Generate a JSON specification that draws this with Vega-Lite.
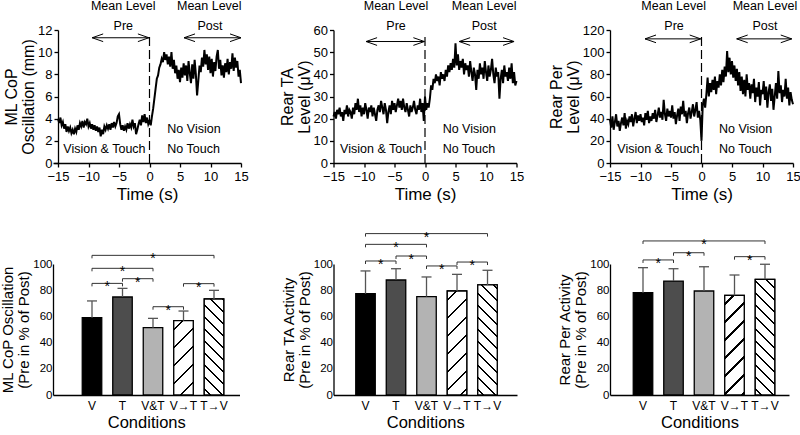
{
"$schema":"https://vega.github.io/schema/vega-lite/v6.json",
"padding":{"left":0,"top":0,"right":0,"bottom":0},
"columns":3,
"spacing":{"row":101,"column":92.5},
"bounds":"flush",
"align":"none",
"config":{"font":"Liberation Sans","view":{"stroke":null},
"axis":{"grid":false,"labelOverlap":false,"labelFlush":false,"labelBound":false,"domainColor":"#000","domainWidth":1.3,"tickColor":"#000","tickWidth":1.3,"labelColor":"#000","titleColor":"#000","labelFontSize":13,"titleFontSize":16,"titleFontWeight":"normal","labelFont":"Liberation Sans","titleFont":"Liberation Sans"},
"axisX":{"labelAngle":0,"titleFontSize":17},
"text":{"font":"Liberation Sans","color":"#000"}},
"datasets":{"series":[
{"t":-15,"cop":4.0,"ta":21,"per":39},{"t":-14.8,"cop":3.6,"ta":23,"per":32},{"t":-14.6,"cop":4.1,"ta":20,"per":42},{"t":-14.4,"cop":3.4,"ta":24,"per":30},{"t":-14.2,"cop":3.7,"ta":22,"per":37},
{"t":-14,"cop":3.1,"ta":25,"per":44},{"t":-13.8,"cop":3.5,"ta":21,"per":33},{"t":-13.6,"cop":2.8,"ta":23,"per":38},{"t":-13.4,"cop":3.3,"ta":19,"per":29},{"t":-13.2,"cop":2.9,"ta":24,"per":36},
{"t":-13,"cop":3.2,"ta":22,"per":41},{"t":-12.8,"cop":2.7,"ta":26,"per":34},{"t":-12.6,"cop":3.0,"ta":21,"per":45},{"t":-12.4,"cop":2.6,"ta":24,"per":31},{"t":-12.2,"cop":3.1,"ta":23,"per":38},
{"t":-12,"cop":2.8,"ta":20,"per":35},{"t":-11.8,"cop":3.4,"ta":25,"per":42},{"t":-11.6,"cop":3.0,"ta":22,"per":37},{"t":-11.4,"cop":3.6,"ta":27,"per":44},{"t":-11.2,"cop":3.3,"ta":24,"per":33},
{"t":-11,"cop":3.8,"ta":29,"per":40},{"t":-10.8,"cop":3.2,"ta":23,"per":46},{"t":-10.6,"cop":3.7,"ta":26,"per":36},{"t":-10.4,"cop":3.5,"ta":21,"per":43},{"t":-10.2,"cop":4.0,"ta":25,"per":38},
{"t":-10,"cop":3.3,"ta":22,"per":44},{"t":-9.8,"cop":3.6,"ta":27,"per":37},{"t":-9.6,"cop":3.1,"ta":24,"per":41},{"t":-9.4,"cop":3.5,"ta":20,"per":34},{"t":-9.2,"cop":3.0,"ta":25,"per":45},
{"t":-9,"cop":3.4,"ta":23,"per":39},{"t":-8.8,"cop":2.9,"ta":26,"per":47},{"t":-8.6,"cop":3.3,"ta":21,"per":36},{"t":-8.4,"cop":2.8,"ta":25,"per":42},{"t":-8.2,"cop":3.2,"ta":22,"per":38},
{"t":-8,"cop":2.4,"ta":19,"per":45},{"t":-7.8,"cop":3.0,"ta":24,"per":40},{"t":-7.6,"cop":2.6,"ta":26,"per":48},{"t":-7.4,"cop":3.3,"ta":23,"per":37},{"t":-7.2,"cop":3.0,"ta":28,"per":43},
{"t":-7,"cop":3.4,"ta":25,"per":50},{"t":-6.8,"cop":3.1,"ta":22,"per":41},{"t":-6.6,"cop":3.5,"ta":27,"per":46},{"t":-6.4,"cop":3.0,"ta":24,"per":39},{"t":-6.2,"cop":3.6,"ta":18,"per":57},
{"t":-6,"cop":3.2,"ta":23,"per":44},{"t":-5.8,"cop":3.7,"ta":26,"per":38},{"t":-5.6,"cop":3.3,"ta":22,"per":49},{"t":-5.4,"cop":3.6,"ta":28,"per":42},{"t":-5.2,"cop":4.2,"ta":24,"per":47},
{"t":-5,"cop":4.4,"ta":27,"per":41},{"t":-4.8,"cop":3.5,"ta":23,"per":52},{"t":-4.6,"cop":3.0,"ta":26,"per":40},{"t":-4.4,"cop":3.4,"ta":29,"per":46},{"t":-4.2,"cop":2.9,"ta":25,"per":35},
{"t":-4,"cop":3.3,"ta":28,"per":43},{"t":-3.8,"cop":3.0,"ta":24,"per":49},{"t":-3.6,"cop":3.6,"ta":29,"per":38},{"t":-3.4,"cop":3.1,"ta":25,"per":51},{"t":-3.2,"cop":3.5,"ta":23,"per":44},
{"t":-3,"cop":3.2,"ta":27,"per":56},{"t":-2.8,"cop":3.9,"ta":24,"per":42},{"t":-2.6,"cop":3.3,"ta":21,"per":47},{"t":-2.4,"cop":3.6,"ta":26,"per":36},{"t":-2.2,"cop":2.6,"ta":23,"per":45},
{"t":-2,"cop":3.0,"ta":25,"per":50},{"t":-1.8,"cop":3.5,"ta":28,"per":40},{"t":-1.6,"cop":3.9,"ta":24,"per":46},{"t":-1.4,"cop":3.4,"ta":22,"per":53},{"t":-1.2,"cop":4.3,"ta":26,"per":42},
{"t":-1,"cop":3.7,"ta":24,"per":48},{"t":-0.8,"cop":4.4,"ta":29,"per":55},{"t":-0.6,"cop":3.6,"ta":23,"per":41},{"t":-0.4,"cop":4.1,"ta":27,"per":47},{"t":-0.2,"cop":3.5,"ta":19,"per":39},
{"t":0,"cop":3.8,"ta":30,"per":20},{"t":0.2,"cop":3.4,"ta":24,"per":52},{"t":0.4,"cop":4.2,"ta":27,"per":58},{"t":0.6,"cop":4.9,"ta":25,"per":50},{"t":0.8,"cop":5.8,"ta":29,"per":62},
{"t":1,"cop":6.7,"ta":35,"per":77},{"t":1.2,"cop":7.6,"ta":33,"per":60},{"t":1.4,"cop":7.9,"ta":38,"per":72},{"t":1.6,"cop":8.6,"ta":36,"per":64},{"t":1.8,"cop":8.9,"ta":40,"per":75},
{"t":2,"cop":9.4,"ta":37,"per":66},{"t":2.2,"cop":9.1,"ta":39,"per":78},{"t":2.4,"cop":10.0,"ta":35,"per":62},{"t":2.6,"cop":9.3,"ta":41,"per":74},{"t":2.8,"cop":9.8,"ta":38,"per":68},
{"t":3,"cop":8.9,"ta":40,"per":80},{"t":3.2,"cop":9.6,"ta":37,"per":70},{"t":3.4,"cop":8.7,"ta":42,"per":84},{"t":3.6,"cop":10.0,"ta":39,"per":73},{"t":3.8,"cop":8.5,"ta":44,"per":87},
{"t":4,"cop":9.3,"ta":41,"per":78},{"t":4.2,"cop":8.1,"ta":45,"per":101},{"t":4.4,"cop":8.8,"ta":42,"per":82},{"t":4.6,"cop":7.6,"ta":47,"per":95},{"t":4.8,"cop":8.4,"ta":43,"per":80},
{"t":5,"cop":7.3,"ta":54,"per":92},{"t":5.2,"cop":8.6,"ta":44,"per":77},{"t":5.4,"cop":7.7,"ta":49,"per":88},{"t":5.6,"cop":9.0,"ta":42,"per":74},{"t":5.8,"cop":7.9,"ta":46,"per":85},
{"t":6,"cop":8.8,"ta":43,"per":70},{"t":6.2,"cop":7.4,"ta":47,"per":82},{"t":6.4,"cop":9.2,"ta":40,"per":65},{"t":6.6,"cop":8.1,"ta":45,"per":78},{"t":6.8,"cop":7.2,"ta":42,"per":62},
{"t":7,"cop":8.9,"ta":44,"per":75},{"t":7.2,"cop":7.6,"ta":39,"per":60},{"t":7.4,"cop":9.3,"ta":46,"per":80},{"t":7.6,"cop":8.0,"ta":41,"per":66},{"t":7.8,"cop":6.1,"ta":37,"per":72},
{"t":8,"cop":7.4,"ta":43,"per":58},{"t":8.2,"cop":8.8,"ta":40,"per":71},{"t":8.4,"cop":8.2,"ta":33,"per":63},{"t":8.6,"cop":9.5,"ta":42,"per":76},{"t":8.8,"cop":8.7,"ta":38,"per":55},
{"t":9,"cop":10.2,"ta":45,"per":68},{"t":9.2,"cop":8.9,"ta":40,"per":60},{"t":9.4,"cop":9.8,"ta":43,"per":73},{"t":9.6,"cop":8.4,"ta":38,"per":52},{"t":9.8,"cop":9.6,"ta":46,"per":66},
{"t":10,"cop":8.1,"ta":41,"per":62},{"t":10.2,"cop":9.4,"ta":37,"per":74},{"t":10.4,"cop":7.8,"ta":44,"per":57},{"t":10.6,"cop":9.1,"ta":39,"per":69},{"t":10.8,"cop":8.3,"ta":42,"per":50},
{"t":11,"cop":9.6,"ta":47,"per":64},{"t":11.2,"cop":10.2,"ta":40,"per":71},{"t":11.4,"cop":8.5,"ta":36,"per":56},{"t":11.6,"cop":9.3,"ta":43,"per":67},{"t":11.8,"cop":7.9,"ta":39,"per":48},
{"t":12,"cop":8.8,"ta":41,"per":60},{"t":12.2,"cop":7.7,"ta":29,"per":72},{"t":12.4,"cop":9.0,"ta":38,"per":58},{"t":12.6,"cop":8.2,"ta":42,"per":83},{"t":12.8,"cop":9.4,"ta":36,"per":63},
{"t":13,"cop":8.0,"ta":44,"per":70},{"t":13.2,"cop":9.1,"ta":39,"per":55},{"t":13.4,"cop":8.5,"ta":41,"per":66},{"t":13.6,"cop":9.9,"ta":37,"per":60},{"t":13.8,"cop":8.3,"ta":43,"per":76},
{"t":14,"cop":9.5,"ta":38,"per":58},{"t":14.2,"cop":8.6,"ta":45,"per":68},{"t":14.4,"cop":9.2,"ta":36,"per":52},{"t":14.6,"cop":7.8,"ta":41,"per":64},{"t":14.8,"cop":8.4,"ta":35,"per":57},
{"t":15,"cop":7.2,"ta":37,"per":53}
]},
"concat":[
{"width":188,"height":133,"layer":[
 {"data":{"name":"series"},"mark":{"type":"line","color":"#000","strokeWidth":2},
  "encoding":{"x":{"field":"t","type":"quantitative","scale":{"domain":[-15.82,15],"nice":false,"zero":false},"axis":{"values":[-15,-10,-5,0,5,10,15],"tickCount":20,"format":"d","labelOverlap":false,"title":"Time (s)","tickSize":4,"labelPadding":3,"titlePadding":3}},
  "y":{"field":"cop","type":"quantitative","scale":{"domain":[0,12],"nice":false},"axis":{"values":[0,2,4,6,8,10,12],"tickCount":20,"format":"d","labelOverlap":false,"title":["ML CoP","Oscillation (mm)"],"tickSize":4,"labelPadding":2,"titlePadding":1,"titleLineHeight":17,"offset":-5}}}},
 {"data":{"values":[{"t":0,"lo":0,"hi":11.7}]},"mark":{"type":"rule","color":"#000","strokeWidth":1.2,"strokeDash":[9,4]},
  "encoding":{"x":{"field":"t","type":"quantitative","scale":{"domain":[-15.82,15]}},"y":{"field":"lo","type":"quantitative","scale":{"domain":[0,12]}},"y2":{"field":"hi"}}},
 {"data":{"values":[{"from":-9.4,"to":-0.1,"level":11.3},{"from":5.66,"to":15,"level":11.3}]},"layer":[
  {"mark":{"type":"rule","color":"#000","strokeWidth":1},"encoding":{"x":{"field":"from","type":"quantitative","scale":{"domain":[-15.82,15]}},"x2":{"field":"to"},"y":{"field":"level","type":"quantitative","scale":{"domain":[0,12]}}}},
  {"mark":{"type":"point","shape":"M2,-0.7L0,0L2,0.7","size":121,"filled":false,"color":"#000","strokeWidth":1,"opacity":1},"encoding":{"x":{"field":"from","type":"quantitative","scale":{"domain":[-15.82,15]}},"y":{"field":"level","type":"quantitative","scale":{"domain":[0,12]}}}},
  {"mark":{"type":"point","shape":"M-2,-0.7L0,0L-2,0.7","size":121,"filled":false,"color":"#000","strokeWidth":1,"opacity":1},"encoding":{"x":{"field":"to","type":"quantitative","scale":{"domain":[-15.82,15]}},"y":{"field":"level","type":"quantitative","scale":{"domain":[0,12]}}}}
 ]},
 {"data":{"values":[{"t":-4.31,"v":13.8,"label":"Mean Level"},{"t":9.8,"v":13.8,"label":"Mean Level"},{"t":-4.3,"v":12.0,"label":"Pre"},{"t":9.9,"v":12.0,"label":"Post"}]},"mark":{"type":"text","align":"center","baseline":"alphabetic","fontSize":12.5,"color":"#000"},
  "encoding":{"x":{"field":"t","type":"quantitative","scale":{"domain":[-15.82,15]}},"y":{"field":"v","type":"quantitative","scale":{"domain":[0,12]}},"text":{"field":"label"}}},
 {"data":{"values":[{"t":-14.13,"v":0.87,"label":"Vision & Touch"},{"t":2.92,"v":2.74,"label":"No Vision"},{"t":2.92,"v":0.87,"label":"No Touch"}]},"mark":{"type":"text","align":"left","baseline":"alphabetic","fontSize":12.5,"color":"#000"},
  "encoding":{"x":{"field":"t","type":"quantitative","scale":{"domain":[-15.82,15]}},"y":{"field":"v","type":"quantitative","scale":{"domain":[0,12]}},"text":{"field":"label"}}}
]},
{"width":183,"height":133,"layer":[
 {"data":{"name":"series"},"mark":{"type":"line","color":"#000","strokeWidth":2},
  "encoding":{"x":{"field":"t","type":"quantitative","scale":{"domain":[-15,15],"nice":false,"zero":false},"axis":{"values":[-15,-10,-5,0,5,10,15],"tickCount":20,"format":"d","labelOverlap":false,"title":"Time (s)","tickSize":4,"labelPadding":3,"titlePadding":3}},
  "y":{"field":"ta","type":"quantitative","scale":{"domain":[0,60],"nice":false},"axis":{"values":[0,10,20,30,40,50,60],"tickCount":20,"format":"d","labelOverlap":false,"title":["Rear TA","Level (μV)"],"tickSize":4,"labelPadding":2,"titlePadding":1,"titleLineHeight":17}}}},
 {"data":{"values":[{"t":0,"lo":0,"hi":58}]},"mark":{"type":"rule","color":"#000","strokeWidth":1.2,"strokeDash":[9,4]},
  "encoding":{"x":{"field":"t","type":"quantitative","scale":{"domain":[-15,15]}},"y":{"field":"lo","type":"quantitative","scale":{"domain":[0,60]}},"y2":{"field":"hi"}}},
 {"data":{"values":[{"from":-9.66,"to":-0.1,"level":54.8},{"from":5.6,"to":14.6,"level":54.8}]},"layer":[
  {"mark":{"type":"rule","color":"#000","strokeWidth":1},"encoding":{"x":{"field":"from","type":"quantitative","scale":{"domain":[-15,15]}},"x2":{"field":"to"},"y":{"field":"level","type":"quantitative","scale":{"domain":[0,60]}}}},
  {"mark":{"type":"point","shape":"M2,-0.7L0,0L2,0.7","size":121,"filled":false,"color":"#000","strokeWidth":1,"opacity":1},"encoding":{"x":{"field":"from","type":"quantitative","scale":{"domain":[-15,15]}},"y":{"field":"level","type":"quantitative","scale":{"domain":[0,60]}}}},
  {"mark":{"type":"point","shape":"M-2,-0.7L0,0L-2,0.7","size":121,"filled":false,"color":"#000","strokeWidth":1,"opacity":1},"encoding":{"x":{"field":"to","type":"quantitative","scale":{"domain":[-15,15]}},"y":{"field":"level","type":"quantitative","scale":{"domain":[0,60]}}}}
 ]},
 {"data":{"values":[{"t":-4.75,"v":69.0,"label":"Mean Level"},{"t":9.7,"v":69.0,"label":"Mean Level"},{"t":-4.75,"v":59.9,"label":"Pre"},{"t":9.7,"v":59.9,"label":"Post"}]},"mark":{"type":"text","align":"center","baseline":"alphabetic","fontSize":12.5,"color":"#000"},
  "encoding":{"x":{"field":"t","type":"quantitative","scale":{"domain":[-15,15]}},"y":{"field":"v","type":"quantitative","scale":{"domain":[0,60]}},"text":{"field":"label"}}},
 {"data":{"values":[{"t":-13.92,"v":4.38,"label":"Vision & Touch"},{"t":2.89,"v":13.7,"label":"No Vision"},{"t":2.89,"v":4.38,"label":"No Touch"}]},"mark":{"type":"text","align":"left","baseline":"alphabetic","fontSize":12.5,"color":"#000"},
  "encoding":{"x":{"field":"t","type":"quantitative","scale":{"domain":[-15,15]}},"y":{"field":"v","type":"quantitative","scale":{"domain":[0,60]}},"text":{"field":"label"}}}
]},
{"width":183,"height":133,"layer":[
 {"data":{"name":"series"},"mark":{"type":"line","color":"#000","strokeWidth":2},
  "encoding":{"x":{"field":"t","type":"quantitative","scale":{"domain":[-15,15],"nice":false,"zero":false},"axis":{"values":[-15,-10,-5,0,5,10,15],"tickCount":20,"format":"d","labelOverlap":false,"title":"Time (s)","tickSize":4,"labelPadding":3,"titlePadding":3}},
  "y":{"field":"per","type":"quantitative","scale":{"domain":[0,120],"nice":false},"axis":{"values":[0,20,40,60,80,100,120],"tickCount":20,"format":"d","labelOverlap":false,"title":["Rear Per","Level (μV)"],"tickSize":4,"labelPadding":2,"titlePadding":1,"titleLineHeight":17}}}},
 {"data":{"values":[{"t":0,"lo":0,"hi":114.6}]},"mark":{"type":"rule","color":"#000","strokeWidth":1.2,"strokeDash":[9,4]},
  "encoding":{"x":{"field":"t","type":"quantitative","scale":{"domain":[-15,15]}},"y":{"field":"lo","type":"quantitative","scale":{"domain":[0,120]}},"y2":{"field":"hi"}}},
 {"data":{"values":[{"from":-9.26,"to":-0.13,"level":112},{"from":5.77,"to":14.8,"level":112}]},"layer":[
  {"mark":{"type":"rule","color":"#000","strokeWidth":1},"encoding":{"x":{"field":"from","type":"quantitative","scale":{"domain":[-15,15]}},"x2":{"field":"to"},"y":{"field":"level","type":"quantitative","scale":{"domain":[0,120]}}}},
  {"mark":{"type":"point","shape":"M2,-0.7L0,0L2,0.7","size":121,"filled":false,"color":"#000","strokeWidth":1,"opacity":1},"encoding":{"x":{"field":"from","type":"quantitative","scale":{"domain":[-15,15]}},"y":{"field":"level","type":"quantitative","scale":{"domain":[0,120]}}}},
  {"mark":{"type":"point","shape":"M-2,-0.7L0,0L-2,0.7","size":121,"filled":false,"color":"#000","strokeWidth":1,"opacity":1},"encoding":{"x":{"field":"to","type":"quantitative","scale":{"domain":[-15,15]}},"y":{"field":"level","type":"quantitative","scale":{"domain":[0,120]}}}}
 ]},
 {"data":{"values":[{"t":-4.56,"v":138.0,"label":"Mean Level"},{"t":10.4,"v":138.0,"label":"Mean Level"},{"t":-4.5,"v":119.7,"label":"Pre"},{"t":10.4,"v":119.7,"label":"Post"}]},"mark":{"type":"text","align":"center","baseline":"alphabetic","fontSize":12.5,"color":"#000"},
  "encoding":{"x":{"field":"t","type":"quantitative","scale":{"domain":[-15,15]}},"y":{"field":"v","type":"quantitative","scale":{"domain":[0,120]}},"text":{"field":"label"}}},
 {"data":{"values":[{"t":-13.8,"v":8.75,"label":"Vision & Touch"},{"t":2.87,"v":27.3,"label":"No Vision"},{"t":2.87,"v":8.75,"label":"No Touch"}]},"mark":{"type":"text","align":"left","baseline":"alphabetic","fontSize":12.5,"color":"#000"},
  "encoding":{"x":{"field":"t","type":"quantitative","scale":{"domain":[-15,15]}},"y":{"field":"v","type":"quantitative","scale":{"domain":[0,120]}},"text":{"field":"label"}}}
]},
{"width":186.5,"height":131,
 "data":{"values":[{"cond":"V","mean":59.0,"upper":71.8},{"cond":"T","mean":74.8,"upper":81.4},{"cond":"V&T","mean":51.4,"upper":58.5},{"cond":"V→T","mean":56.7,"upper":64.1},{"cond":"T→V","mean":73.3,"upper":79.9}]},
 "layer":[
 {"mark":{"type":"bar","stroke":"#000","strokeWidth":1.3},
  "encoding":{"x":{"field":"cond","type":"nominal","scale":{"domain":["V","T","V&T","V→T","T→V"],"paddingInner":0.3607,"paddingOuter":0.7377,"align":0.65},"axis":{"title":"Conditions","labelOverlap":false,"ticks":false,"labelPadding":5,"titlePadding":3,"labelFontSize":12,"titleFontSize":16.5}},
  "y":{"field":"mean","type":"quantitative","scale":{"domain":[0,100],"nice":false},"axis":{"values":[0,20,40,60,80,100],"tickCount":20,"format":"d","labelOverlap":false,"title":["ML CoP Oscillation","(Pre in % of Post)"],"ticks":false,"labelPadding":1,"titlePadding":1,"labelFontSize":11.5,"titleFontSize":15,"titleLineHeight":16}},
  "fill":{"field":"cond","type":"nominal","scale":{"domain":["V","T","V&T","V→T","T→V"],"range":["#000000","#4d4d4d","#b3b3b3","#ffffff","#ffffff"]},"legend":null}}},
 {"transform":[{"filter":"datum.cond === 'V→T'"}],"mark":{"type":"bar","stroke":"#000","strokeWidth":1.3,"fill":{"gradient":"linear","x1":0,"y1":0,"x2":0.31007,"y2":1.18113,"stops":[
  {"offset":0.08424,"color":"#fff"},{"offset":0.08424,"color":"#000"},{"offset":0.1077,"color":"#000"},{"offset":0.1077,"color":"#fff"},
  {"offset":0.27618,"color":"#fff"},{"offset":0.27618,"color":"#000"},{"offset":0.29964,"color":"#000"},{"offset":0.29964,"color":"#fff"},
  {"offset":0.46812,"color":"#fff"},{"offset":0.46812,"color":"#000"},{"offset":0.49158,"color":"#000"},{"offset":0.49158,"color":"#fff"},
  {"offset":0.66006,"color":"#fff"},{"offset":0.66006,"color":"#000"},{"offset":0.68352,"color":"#000"},{"offset":0.68352,"color":"#fff"},
  {"offset":0.85199,"color":"#fff"},{"offset":0.85199,"color":"#000"},{"offset":0.87545,"color":"#000"},{"offset":0.87545,"color":"#fff"}]}},
  "encoding":{"x":{"field":"cond","type":"nominal","scale":{"domain":["V","T","V&T","V→T","T→V"]}},"y":{"field":"mean","type":"quantitative","scale":{"domain":[0,100]}}}},
 {"transform":[{"filter":"datum.cond === 'T→V'"}],"mark":{"type":"bar","stroke":"#000","strokeWidth":1.3,"fill":{"gradient":"linear","x1":0,"y1":1,"x2":0.23465,"y2":-0.15544,"stops":[
  {"offset":0.04242,"color":"#fff"},{"offset":0.04242,"color":"#000"},{"offset":0.06146,"color":"#000"},{"offset":0.06146,"color":"#fff"},
  {"offset":0.14629,"color":"#fff"},{"offset":0.14629,"color":"#000"},{"offset":0.16534,"color":"#000"},{"offset":0.16534,"color":"#fff"},
  {"offset":0.25017,"color":"#fff"},{"offset":0.25017,"color":"#000"},{"offset":0.26922,"color":"#000"},{"offset":0.26922,"color":"#fff"},
  {"offset":0.35405,"color":"#fff"},{"offset":0.35405,"color":"#000"},{"offset":0.3731,"color":"#000"},{"offset":0.3731,"color":"#fff"},
  {"offset":0.45793,"color":"#fff"},{"offset":0.45793,"color":"#000"},{"offset":0.47697,"color":"#000"},{"offset":0.47697,"color":"#fff"},
  {"offset":0.56181,"color":"#fff"},{"offset":0.56181,"color":"#000"},{"offset":0.58085,"color":"#000"},{"offset":0.58085,"color":"#fff"},
  {"offset":0.66568,"color":"#fff"},{"offset":0.66568,"color":"#000"},{"offset":0.68473,"color":"#000"},{"offset":0.68473,"color":"#fff"},
  {"offset":0.76956,"color":"#fff"},{"offset":0.76956,"color":"#000"},{"offset":0.78861,"color":"#000"},{"offset":0.78861,"color":"#fff"},
  {"offset":0.87344,"color":"#fff"},{"offset":0.87344,"color":"#000"},{"offset":0.89249,"color":"#000"},{"offset":0.89249,"color":"#fff"},
  {"offset":0.97732,"color":"#fff"},{"offset":0.97732,"color":"#000"},{"offset":0.99636,"color":"#000"},{"offset":0.99636,"color":"#fff"}]}},
  "encoding":{"x":{"field":"cond","type":"nominal","scale":{"domain":["V","T","V&T","V→T","T→V"]}},"y":{"field":"mean","type":"quantitative","scale":{"domain":[0,100]}}}},
 {"mark":{"type":"rule","color":"#555","strokeWidth":1.3},"encoding":{"x":{"field":"cond","type":"nominal","scale":{"domain":["V","T","V&T","V→T","T→V"]}},"y":{"field":"mean","type":"quantitative","scale":{"domain":[0,100]}},"y2":{"field":"upper"}}},
 {"mark":{"type":"tick","orient":"horizontal","size":10,"thickness":1.3,"color":"#555","opacity":1},"encoding":{"x":{"field":"cond","type":"nominal","scale":{"domain":["V","T","V&T","V→T","T→V"]}},"y":{"field":"upper","type":"quantitative","scale":{"domain":[0,100]}}}},
 {"data":{"values":[{"from":"V","to":"T","level":85.2,"span":1},{"from":"T","to":"V&T","level":88.8,"span":1},{"from":"V","to":"V&T","level":96.7,"span":2},{"from":"V&T","to":"V→T","level":67.4,"span":1},{"from":"V→T","to":"T→V","level":85.0,"span":1},{"from":"V","to":"T→V","level":106.6,"span":4}]},
  "layer":[
  {"mark":{"type":"rule","color":"#333","strokeWidth":1},"encoding":{"x":{"field":"from","type":"nominal","scale":{"domain":["V","T","V&T","V→T","T→V"]}},"x2":{"field":"to"},"y":{"field":"level","type":"quantitative","scale":{"domain":[0,100]}}}},
  {"mark":{"type":"rule","color":"#333","strokeWidth":1,"y2Offset":3},"encoding":{"x":{"field":"from","type":"nominal","scale":{"domain":["V","T","V&T","V→T","T→V"]}},"y":{"field":"level","type":"quantitative","scale":{"domain":[0,100]}},"y2":{"field":"level"}}},
  {"mark":{"type":"rule","color":"#333","strokeWidth":1,"y2Offset":3},"encoding":{"x":{"field":"to","type":"nominal","scale":{"domain":["V","T","V&T","V→T","T→V"]}},"y":{"field":"level","type":"quantitative","scale":{"domain":[0,100]}},"y2":{"field":"level"}}},
  {"transform":[{"filter":"datum.span === 1"}],"mark":{"type":"text","text":"*","dx":15.25,"dy":4,"fontSize":14,"color":"#000"},"encoding":{"x":{"field":"from","type":"nominal","scale":{"domain":["V","T","V&T","V→T","T→V"]}},"y":{"field":"level","type":"quantitative","scale":{"domain":[0,100]}}}},
  {"transform":[{"filter":"datum.span === 2"}],"mark":{"type":"text","text":"*","dx":30.5,"dy":4,"fontSize":14,"color":"#000"},"encoding":{"x":{"field":"from","type":"nominal","scale":{"domain":["V","T","V&T","V→T","T→V"]}},"y":{"field":"level","type":"quantitative","scale":{"domain":[0,100]}}}},
  {"transform":[{"filter":"datum.span === 4"}],"mark":{"type":"text","text":"*","dx":61,"dy":4,"fontSize":14,"color":"#000"},"encoding":{"x":{"field":"from","type":"nominal","scale":{"domain":["V","T","V&T","V→T","T→V"]}},"y":{"field":"level","type":"quantitative","scale":{"domain":[0,100]}}}}
 ]}
]},
{"width":183.5,"height":131,
 "data":{"values":[{"cond":"V","mean":77.3,"upper":94.7},{"cond":"T","mean":87.8,"upper":96.4},{"cond":"V&T","mean":75.1,"upper":90.1},{"cond":"V→T","mean":79.4,"upper":92.1},{"cond":"T→V","mean":84.0,"upper":95.2}]},
 "layer":[
 {"mark":{"type":"bar","stroke":"#000","strokeWidth":1.3},
  "encoding":{"x":{"field":"cond","type":"nominal","scale":{"domain":["V","T","V&T","V→T","T→V"],"paddingInner":0.3607,"paddingOuter":0.6885,"align":0.53},"axis":{"title":"Conditions","labelOverlap":false,"ticks":false,"labelPadding":5,"titlePadding":3,"labelFontSize":12,"titleFontSize":16.5}},
  "y":{"field":"mean","type":"quantitative","scale":{"domain":[0,100],"nice":false},"axis":{"values":[0,20,40,60,80,100],"tickCount":20,"format":"d","labelOverlap":false,"title":["Rear TA Activity","(Pre in % of Post)"],"ticks":false,"labelPadding":1,"titlePadding":1,"labelFontSize":11.5,"titleFontSize":15,"titleLineHeight":16}},
  "fill":{"field":"cond","type":"nominal","scale":{"domain":["V","T","V&T","V→T","T→V"],"range":["#000000","#4d4d4d","#b3b3b3","#ffffff","#ffffff"]},"legend":null}}},
 {"transform":[{"filter":"datum.cond === 'V→T'"}],"mark":{"type":"bar","stroke":"#000","strokeWidth":1.3,"fill":{"gradient":"linear","x1":0,"y1":0,"x2":0.21507,"y2":1.14713,"stops":[
  {"offset":0.06396,"color":"#fff"},{"offset":0.06396,"color":"#000"},{"offset":0.08177,"color":"#000"},{"offset":0.08177,"color":"#fff"},
  {"offset":0.2097,"color":"#fff"},{"offset":0.2097,"color":"#000"},{"offset":0.22751,"color":"#000"},{"offset":0.22751,"color":"#fff"},
  {"offset":0.35544,"color":"#fff"},{"offset":0.35544,"color":"#000"},{"offset":0.37325,"color":"#000"},{"offset":0.37325,"color":"#fff"},
  {"offset":0.50117,"color":"#fff"},{"offset":0.50117,"color":"#000"},{"offset":0.51899,"color":"#000"},{"offset":0.51899,"color":"#fff"},
  {"offset":0.64691,"color":"#fff"},{"offset":0.64691,"color":"#000"},{"offset":0.66472,"color":"#000"},{"offset":0.66472,"color":"#fff"},
  {"offset":0.79265,"color":"#fff"},{"offset":0.79265,"color":"#000"},{"offset":0.81046,"color":"#000"},{"offset":0.81046,"color":"#fff"},
  {"offset":0.93839,"color":"#fff"},{"offset":0.93839,"color":"#000"},{"offset":0.9562,"color":"#000"},{"offset":0.9562,"color":"#fff"}]}},
  "encoding":{"x":{"field":"cond","type":"nominal","scale":{"domain":["V","T","V&T","V→T","T→V"]}},"y":{"field":"mean","type":"quantitative","scale":{"domain":[0,100]}}}},
 {"transform":[{"filter":"datum.cond === 'T→V'"}],"mark":{"type":"bar","stroke":"#000","strokeWidth":1.3,"fill":{"gradient":"linear","x1":0,"y1":1,"x2":0.20226,"y2":-0.14135,"stops":[
  {"offset":0.03783,"color":"#fff"},{"offset":0.03783,"color":"#000"},{"offset":0.05481,"color":"#000"},{"offset":0.05481,"color":"#fff"},
  {"offset":0.13046,"color":"#fff"},{"offset":0.13046,"color":"#000"},{"offset":0.14745,"color":"#000"},{"offset":0.14745,"color":"#fff"},
  {"offset":0.2231,"color":"#fff"},{"offset":0.2231,"color":"#000"},{"offset":0.24008,"color":"#000"},{"offset":0.24008,"color":"#fff"},
  {"offset":0.31573,"color":"#fff"},{"offset":0.31573,"color":"#000"},{"offset":0.33272,"color":"#000"},{"offset":0.33272,"color":"#fff"},
  {"offset":0.40837,"color":"#fff"},{"offset":0.40837,"color":"#000"},{"offset":0.42535,"color":"#000"},{"offset":0.42535,"color":"#fff"},
  {"offset":0.501,"color":"#fff"},{"offset":0.501,"color":"#000"},{"offset":0.51799,"color":"#000"},{"offset":0.51799,"color":"#fff"},
  {"offset":0.59364,"color":"#fff"},{"offset":0.59364,"color":"#000"},{"offset":0.61062,"color":"#000"},{"offset":0.61062,"color":"#fff"},
  {"offset":0.68627,"color":"#fff"},{"offset":0.68627,"color":"#000"},{"offset":0.70326,"color":"#000"},{"offset":0.70326,"color":"#fff"},
  {"offset":0.77891,"color":"#fff"},{"offset":0.77891,"color":"#000"},{"offset":0.79589,"color":"#000"},{"offset":0.79589,"color":"#fff"},
  {"offset":0.87154,"color":"#fff"},{"offset":0.87154,"color":"#000"},{"offset":0.88853,"color":"#000"},{"offset":0.88853,"color":"#fff"},
  {"offset":0.96418,"color":"#fff"},{"offset":0.96418,"color":"#000"},{"offset":0.98116,"color":"#000"},{"offset":0.98116,"color":"#fff"}]}},
  "encoding":{"x":{"field":"cond","type":"nominal","scale":{"domain":["V","T","V&T","V→T","T→V"]}},"y":{"field":"mean","type":"quantitative","scale":{"domain":[0,100]}}}},
 {"mark":{"type":"rule","color":"#555","strokeWidth":1.3},"encoding":{"x":{"field":"cond","type":"nominal","scale":{"domain":["V","T","V&T","V→T","T→V"]}},"y":{"field":"mean","type":"quantitative","scale":{"domain":[0,100]}},"y2":{"field":"upper"}}},
 {"mark":{"type":"tick","orient":"horizontal","size":10,"thickness":1.3,"color":"#555","opacity":1},"encoding":{"x":{"field":"cond","type":"nominal","scale":{"domain":["V","T","V&T","V→T","T→V"]}},"y":{"field":"upper","type":"quantitative","scale":{"domain":[0,100]}}}},
 {"data":{"values":[{"from":"V","to":"T","level":102.3,"span":1},{"from":"T","to":"V&T","level":106.1,"span":1},{"from":"V","to":"V&T","level":115.0,"span":2},{"from":"V","to":"T→V","level":123.2,"span":4},{"from":"V&T","to":"V→T","level":98.5,"span":1},{"from":"V→T","to":"T→V","level":101.5,"span":1}]},
  "layer":[
  {"mark":{"type":"rule","color":"#333","strokeWidth":1},"encoding":{"x":{"field":"from","type":"nominal","scale":{"domain":["V","T","V&T","V→T","T→V"]}},"x2":{"field":"to"},"y":{"field":"level","type":"quantitative","scale":{"domain":[0,100]}}}},
  {"mark":{"type":"rule","color":"#333","strokeWidth":1,"y2Offset":3},"encoding":{"x":{"field":"from","type":"nominal","scale":{"domain":["V","T","V&T","V→T","T→V"]}},"y":{"field":"level","type":"quantitative","scale":{"domain":[0,100]}},"y2":{"field":"level"}}},
  {"mark":{"type":"rule","color":"#333","strokeWidth":1,"y2Offset":3},"encoding":{"x":{"field":"to","type":"nominal","scale":{"domain":["V","T","V&T","V→T","T→V"]}},"y":{"field":"level","type":"quantitative","scale":{"domain":[0,100]}},"y2":{"field":"level"}}},
  {"transform":[{"filter":"datum.span === 1"}],"mark":{"type":"text","text":"*","dx":15.25,"dy":4,"fontSize":14,"color":"#000"},"encoding":{"x":{"field":"from","type":"nominal","scale":{"domain":["V","T","V&T","V→T","T→V"]}},"y":{"field":"level","type":"quantitative","scale":{"domain":[0,100]}}}},
  {"transform":[{"filter":"datum.span === 2"}],"mark":{"type":"text","text":"*","dx":30.5,"dy":4,"fontSize":14,"color":"#000"},"encoding":{"x":{"field":"from","type":"nominal","scale":{"domain":["V","T","V&T","V→T","T→V"]}},"y":{"field":"level","type":"quantitative","scale":{"domain":[0,100]}}}},
  {"transform":[{"filter":"datum.span === 4"}],"mark":{"type":"text","text":"*","dx":61,"dy":4,"fontSize":14,"color":"#000"},"encoding":{"x":{"field":"from","type":"nominal","scale":{"domain":["V","T","V&T","V→T","T→V"]}},"y":{"field":"level","type":"quantitative","scale":{"domain":[0,100]}}}}
 ]}
]},
{"width":179,"height":131,
 "data":{"values":[{"cond":"V","mean":78.1,"upper":97.2},{"cond":"T","mean":87.0,"upper":96.4},{"cond":"V&T","mean":79.4,"upper":97.9},{"cond":"V→T","mean":76.1,"upper":91.6},{"cond":"T→V","mean":88.3,"upper":99.8}]},
 "layer":[
 {"mark":{"type":"bar","stroke":"#000","strokeWidth":1.3},
  "encoding":{"x":{"field":"cond","type":"nominal","scale":{"domain":["V","T","V&T","V→T","T→V"],"paddingInner":0.3607,"paddingOuter":0.6148,"align":0.62},"axis":{"title":"Conditions","labelOverlap":false,"ticks":false,"labelPadding":5,"titlePadding":3,"labelFontSize":12,"titleFontSize":16.5}},
  "y":{"field":"mean","type":"quantitative","scale":{"domain":[0,100],"nice":false},"axis":{"values":[0,20,40,60,80,100],"tickCount":20,"format":"d","labelOverlap":false,"title":["Rear Per Activity","(Pre in % of Post)"],"ticks":false,"labelPadding":1,"titlePadding":1,"labelFontSize":11.5,"titleFontSize":15,"titleLineHeight":16}},
  "fill":{"field":"cond","type":"nominal","scale":{"domain":["V","T","V&T","V→T","T→V"],"range":["#000000","#4d4d4d","#b3b3b3","#ffffff","#ffffff"]},"legend":null}}},
 {"transform":[{"filter":"datum.cond === 'V→T'"}],"mark":{"type":"bar","stroke":"#000","strokeWidth":1.3,"fill":{"gradient":"linear","x1":0,"y1":0,"x2":0.22525,"y2":1.15154,"stops":[
  {"offset":0.06628,"color":"#fff"},{"offset":0.06628,"color":"#000"},{"offset":0.08474,"color":"#000"},{"offset":0.08474,"color":"#fff"},
  {"offset":0.2173,"color":"#fff"},{"offset":0.2173,"color":"#000"},{"offset":0.23576,"color":"#000"},{"offset":0.23576,"color":"#fff"},
  {"offset":0.36832,"color":"#fff"},{"offset":0.36832,"color":"#000"},{"offset":0.38678,"color":"#000"},{"offset":0.38678,"color":"#fff"},
  {"offset":0.51934,"color":"#fff"},{"offset":0.51934,"color":"#000"},{"offset":0.5378,"color":"#000"},{"offset":0.5378,"color":"#fff"},
  {"offset":0.67036,"color":"#fff"},{"offset":0.67036,"color":"#000"},{"offset":0.68882,"color":"#000"},{"offset":0.68882,"color":"#fff"},
  {"offset":0.82138,"color":"#fff"},{"offset":0.82138,"color":"#000"},{"offset":0.83984,"color":"#000"},{"offset":0.83984,"color":"#fff"},
  {"offset":0.9724,"color":"#fff"},{"offset":0.9724,"color":"#000"},{"offset":0.99086,"color":"#000"},{"offset":0.99086,"color":"#fff"}]}},
  "encoding":{"x":{"field":"cond","type":"nominal","scale":{"domain":["V","T","V&T","V→T","T→V"]}},"y":{"field":"mean","type":"quantitative","scale":{"domain":[0,100]}}}},
 {"transform":[{"filter":"datum.cond === 'T→V'"}],"mark":{"type":"bar","stroke":"#000","strokeWidth":1.3,"fill":{"gradient":"linear","x1":0,"y1":1,"x2":0.19156,"y2":-0.13629,"stops":[
  {"offset":0.03625,"color":"#fff"},{"offset":0.03625,"color":"#000"},{"offset":0.05253,"color":"#000"},{"offset":0.05253,"color":"#fff"},
  {"offset":0.12503,"color":"#fff"},{"offset":0.12503,"color":"#000"},{"offset":0.1413,"color":"#000"},{"offset":0.1413,"color":"#fff"},
  {"offset":0.2138,"color":"#fff"},{"offset":0.2138,"color":"#000"},{"offset":0.23008,"color":"#000"},{"offset":0.23008,"color":"#fff"},
  {"offset":0.30258,"color":"#fff"},{"offset":0.30258,"color":"#000"},{"offset":0.31886,"color":"#000"},{"offset":0.31886,"color":"#fff"},
  {"offset":0.39136,"color":"#fff"},{"offset":0.39136,"color":"#000"},{"offset":0.40764,"color":"#000"},{"offset":0.40764,"color":"#fff"},
  {"offset":0.48014,"color":"#fff"},{"offset":0.48014,"color":"#000"},{"offset":0.49641,"color":"#000"},{"offset":0.49641,"color":"#fff"},
  {"offset":0.56891,"color":"#fff"},{"offset":0.56891,"color":"#000"},{"offset":0.58519,"color":"#000"},{"offset":0.58519,"color":"#fff"},
  {"offset":0.65769,"color":"#fff"},{"offset":0.65769,"color":"#000"},{"offset":0.67397,"color":"#000"},{"offset":0.67397,"color":"#fff"},
  {"offset":0.74647,"color":"#fff"},{"offset":0.74647,"color":"#000"},{"offset":0.76274,"color":"#000"},{"offset":0.76274,"color":"#fff"},
  {"offset":0.83524,"color":"#fff"},{"offset":0.83524,"color":"#000"},{"offset":0.85152,"color":"#000"},{"offset":0.85152,"color":"#fff"},
  {"offset":0.92402,"color":"#fff"},{"offset":0.92402,"color":"#000"},{"offset":0.9403,"color":"#000"},{"offset":0.9403,"color":"#fff"}]}},
  "encoding":{"x":{"field":"cond","type":"nominal","scale":{"domain":["V","T","V&T","V→T","T→V"]}},"y":{"field":"mean","type":"quantitative","scale":{"domain":[0,100]}}}},
 {"mark":{"type":"rule","color":"#555","strokeWidth":1.3},"encoding":{"x":{"field":"cond","type":"nominal","scale":{"domain":["V","T","V&T","V→T","T→V"]}},"y":{"field":"mean","type":"quantitative","scale":{"domain":[0,100]}},"y2":{"field":"upper"}}},
 {"mark":{"type":"tick","orient":"horizontal","size":10,"thickness":1.3,"color":"#555","opacity":1},"encoding":{"x":{"field":"cond","type":"nominal","scale":{"domain":["V","T","V&T","V→T","T→V"]}},"y":{"field":"upper","type":"quantitative","scale":{"domain":[0,100]}}}},
 {"data":{"values":[{"from":"V","to":"T","level":103.1,"span":1},{"from":"T","to":"V&T","level":108.6,"span":1},{"from":"V→T","to":"T→V","level":105.6,"span":1},{"from":"V","to":"T→V","level":117.6,"span":4}]},
  "layer":[
  {"mark":{"type":"rule","color":"#333","strokeWidth":1},"encoding":{"x":{"field":"from","type":"nominal","scale":{"domain":["V","T","V&T","V→T","T→V"]}},"x2":{"field":"to"},"y":{"field":"level","type":"quantitative","scale":{"domain":[0,100]}}}},
  {"mark":{"type":"rule","color":"#333","strokeWidth":1,"y2Offset":3},"encoding":{"x":{"field":"from","type":"nominal","scale":{"domain":["V","T","V&T","V→T","T→V"]}},"y":{"field":"level","type":"quantitative","scale":{"domain":[0,100]}},"y2":{"field":"level"}}},
  {"mark":{"type":"rule","color":"#333","strokeWidth":1,"y2Offset":3},"encoding":{"x":{"field":"to","type":"nominal","scale":{"domain":["V","T","V&T","V→T","T→V"]}},"y":{"field":"level","type":"quantitative","scale":{"domain":[0,100]}},"y2":{"field":"level"}}},
  {"transform":[{"filter":"datum.span === 1"}],"mark":{"type":"text","text":"*","dx":15.25,"dy":4,"fontSize":14,"color":"#000"},"encoding":{"x":{"field":"from","type":"nominal","scale":{"domain":["V","T","V&T","V→T","T→V"]}},"y":{"field":"level","type":"quantitative","scale":{"domain":[0,100]}}}},
  {"transform":[{"filter":"datum.span === 4"}],"mark":{"type":"text","text":"*","dx":61,"dy":4,"fontSize":14,"color":"#000"},"encoding":{"x":{"field":"from","type":"nominal","scale":{"domain":["V","T","V&T","V→T","T→V"]}},"y":{"field":"level","type":"quantitative","scale":{"domain":[0,100]}}}}
 ]}
]}
]
}
